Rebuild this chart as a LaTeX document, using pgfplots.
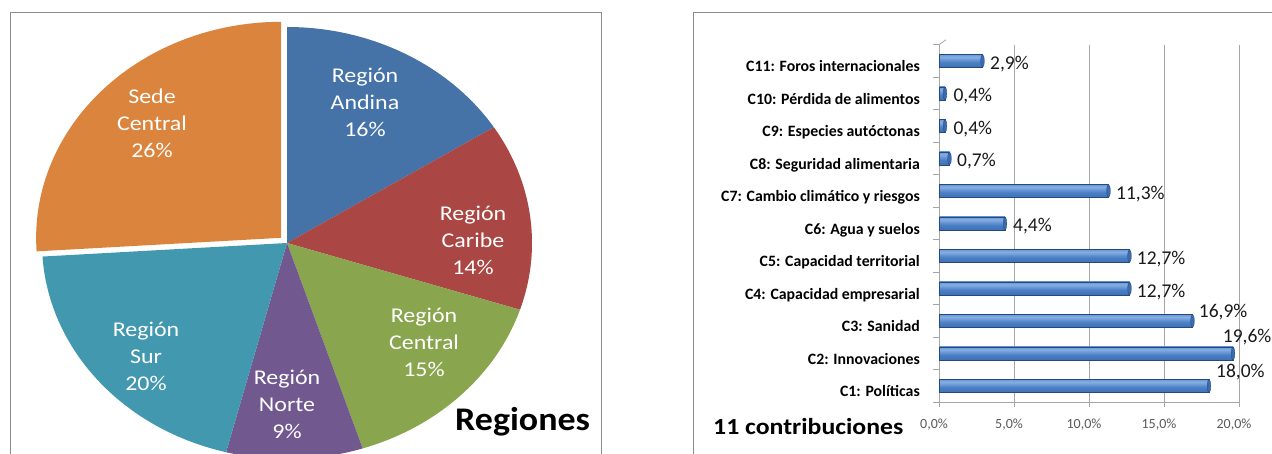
\documentclass[border=0pt]{standalone}
\usepackage{fontspec}
\setmainfont{Carlito}
\usepackage{pgfplots}
\usepackage{pgfplotstable}
\pgfplotsset{compat=1.18}

\definecolor{cAndina}{HTML}{4572A7}
\definecolor{cCaribe}{HTML}{AA4643}
\definecolor{cCentral}{HTML}{89A54E}
\definecolor{cNorte}{HTML}{71588F}
\definecolor{cSur}{HTML}{4198AF}
\definecolor{cSede}{HTML}{DB843D}
\definecolor{boxgray}{HTML}{8C8C8C}
\definecolor{gridgray}{HTML}{A6A6A6}
\definecolor{tickgray}{HTML}{595959}
\definecolor{bdark}{HTML}{24497D}
\definecolor{bdark2}{HTML}{3567AA}
\definecolor{bmid}{HTML}{4C80C6}
\definecolor{blight}{HTML}{86AEE3}
\definecolor{btop}{HTML}{5D8ED0}
\definecolor{bcap}{HTML}{3B6AAE}

\pgfdeclareverticalshading{cyl}{100bp}{color(0bp)=(bdark); color(15bp)=(bdark2); color(45bp)=(bmid); color(65bp)=(blight); color(80bp)=(btop); color(100bp)=(btop)}

% contributions: y position, value (%), label offsets (pt)
\pgfplotstableread{
y val dx dy
1 18.0 7 8.6
2 19.6 -10.3 10.6
3 16.9 6.2 3.4
4 12.7 7.2 -8.7
5 12.7 7.2 -8.7
6 4.4 8 -8.5
7 11.3 7.5 -8.7
8 0.7 7.5 -8.5
9 0.4 8.3 -8.5
10 0.4 8.3 -8.5
11 2.9 7.5 -8.5
}\contrib

\begin{document}
\begin{tikzpicture}
% panel frames
\draw[boxgray, line width=1pt] (10pt,-20pt) -- (10pt,441pt) -- (601pt,441pt) -- (601pt,-20pt);
\draw[boxgray, line width=1pt] (693pt,-20pt) -- (693pt,441pt) -- (1290pt,441pt);

% ---------------- Pie (shares: Andina 16, Caribe 14, Central 15, Norte 9, Sur 20, Sede 26) ----------------
\begin{axis}[at={(287pt,211pt)}, anchor=center, scale only axis,
  width=490pt, height=432pt, xmin=-1, xmax=1, ymin=-1, ymax=1,
  hide axis, clip=false]
\addplot[draw=none, fill=cAndina, samples=80, domain={90-3.6*16}:{90}] ({cos(x)},{sin(x)}) -- (0,0) -- cycle;
\addplot[draw=none, fill=cCaribe, samples=80, domain={90-3.6*(16+14)}:{90-3.6*16}] ({cos(x)},{sin(x)}) -- (0,0) -- cycle;
\addplot[draw=none, fill=cCentral, samples=80, domain={90-3.6*(16+14+15)}:{90-3.6*(16+14)}] ({cos(x)},{sin(x)}) -- (0,0) -- cycle;
\addplot[draw=none, fill=cNorte, samples=80, domain={90-3.6*(16+14+15+9)}:{90-3.6*(16+14+15)}] ({cos(x)},{sin(x)}) -- (0,0) -- cycle;
\addplot[draw=none, fill=cSur, samples=80, domain={90-3.6*(16+14+15+9+20)}:{90-3.6*(16+14+15+9)}] ({cos(x)},{sin(x)}) -- (0,0) -- cycle;
\addplot[draw=none, fill=cSede, samples=80, domain={90-3.6*(16+14+15+9+20+26)}:{90-3.6*(16+14+15+9+20)}] ({cos(x)-0.024},{sin(x)+0.024}) -- (-0.024,0.024) -- cycle;
\end{axis}

\tikzset{pielab/.style={text=white, align=center, xscale=1.14, inner sep=0pt,
  font=\fontsize{21}{27}\selectfont}}
\node[pielab] at (365pt,352pt) {Región\\Andina\\16\%};
\node[pielab] at (473pt,214pt) {Región\\Caribe\\14\%};
\node[pielab] at (424pt,112pt) {Región\\Central\\15\%};
\node[pielab] at (287pt,50pt) {Región\\Norte\\9\%};
\node[pielab] at (146pt,98pt) {Región\\Sur\\20\%};
\node[pielab] at (152pt,331pt) {Sede\\Central\\26\%};
\node[anchor=base west, inner sep=0pt, xscale=1.09, font=\bfseries\fontsize{33}{33}\selectfont] at (455pt,23pt) {Regiones};

% ---------------- Bars ----------------
\begin{axis}[at={(939pt,51.75pt)}, anchor=south west, scale only axis,
  width=300pt, height=357.5pt,
  xmin=0, xmax=20, ymin=0.5, ymax=11.5,
  axis lines*=left, axis line style={gridgray, line width=0.8pt},
  xmajorgrids, grid style={gridgray, line width=0.8pt},
  tick align=outside, major tick length=5pt,
  xtick={0,5,10,15,20},
  /pgf/number format/assume math mode=true,
  xticklabel={\pgfmathprintnumber[fixed,fixed zerofill,precision=1,use comma]{\tick}\%},
  xticklabel style={font=\fontsize{14}{14}\selectfont, text=tickgray, anchor=base, inner sep=0pt, yshift=-21pt, xshift=-5pt},
  xtick style={gridgray, line width=0.8pt},
  ytick={1,...,11},
  yticklabels={C1: Políticas, C2: Innovaciones, C3: Sanidad, C4: Capacidad empresarial, C5: Capacidad territorial, C6: Agua y suelos, C7: Cambio climático y riesgos, C8: Seguridad alimentaria, C9: Especies autóctonas, C10: Pérdida de alimentos, C11: Foros internacionales},
  yticklabel style={font=\bfseries\fontsize{15.8}{16}\selectfont, anchor=base east, inner sep=0pt, xshift=-14pt, yshift=-10.7pt},
  ytick style={draw=none},
  clip=false]
\pgfplotsinvokeforeach{1,...,11}{
  \addplot[xbar, bar width=13pt, draw=bdark, line width=0.3pt, shading=cyl,
    y filter/.expression={abs(y-#1)<0.1 ? y : nan}] table[x=val, y=y] {\contrib};
}
\addplot[only marks, mark=*, mark size=6.5pt, mark options={xscale=0.28, fill=bcap, draw=bdark, line width=0.3pt}] table[x=val, y=y] {\contrib};
\addplot[only marks, mark=none, point meta=x,
  visualization depends on={\thisrow{dx} \as \labdx},
  visualization depends on={\thisrow{dy} \as \labdy},
  nodes near coords={\pgfmathprintnumber[fixed,fixed zerofill,precision=1,use comma,assume math mode=true]{\pgfplotspointmeta}\%},
  nodes near coords style={anchor=base west, inner sep=0pt, xshift=\labdx pt, yshift=\labdy pt, font=\fontsize{19.5}{20}\selectfont, text=black!90}]
  table[x=val, y=y] {\contrib};
\pgfplotsinvokeforeach{0.5,1.5,...,11.5}{\draw[gridgray, line width=0.8pt] (axis cs:0,#1) -- ++(-6pt,0pt);}
\draw[gridgray, line width=0.8pt] (axis cs:0,11.5) -- ++(7pt,5pt);
\end{axis}
\node[anchor=base west, inner sep=0pt, xscale=1.12, font=\bfseries\fontsize{23}{23}\selectfont] at (713pt,19.7pt) {11 contribuciones};

\pgfresetboundingbox
\path[use as bounding box] (0pt,0pt) rectangle (1272pt,454pt);
\end{tikzpicture}
\end{document}
